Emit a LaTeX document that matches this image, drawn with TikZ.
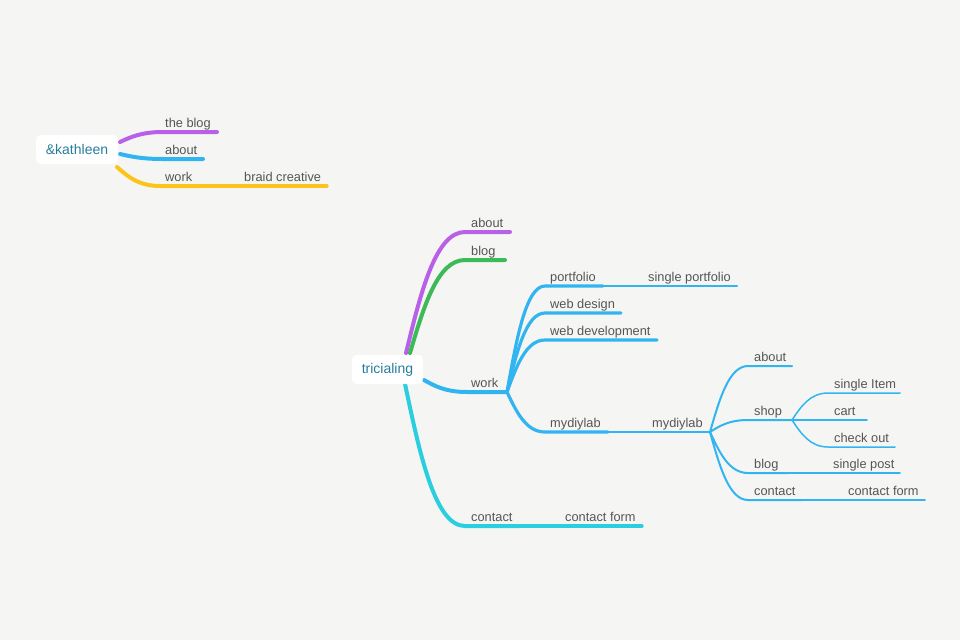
\documentclass[tikz,border=0pt]{standalone}
\usepackage{fontspec}
\setmainfont{Liberation Sans}
\usetikzlibrary{calc}
\definecolor{bg}{RGB}{245,246,244}
\definecolor{txt}{RGB}{85,85,85}
\definecolor{roottxt}{RGB}{40,126,154}
\definecolor{mmpurple}{RGB}{184,96,232}
\definecolor{mmgreen}{RGB}{60,186,88}
\definecolor{mmblue}{RGB}{50,180,240}
\definecolor{mmcyan}{RGB}{42,206,222}
\definecolor{mmyellow}{RGB}{252,196,26}
% S-shaped branch from a parent point to a child corner, then along the underline
\newcommand\mmlink[4]{\draw[#1] let \p1=(#2), \p2=(#3) in (\p1) .. controls ({0.75*\x1+0.25*\x2},{0.5*\y1+0.5*\y2}) and ({0.5*\x1+0.5*\x2},\y2) .. (\p2) -- (#4);}
\begin{document}
\begin{tikzpicture}[x=1pt,y=-1pt,
  line cap=round,
  lbl/.style={anchor=base west,inner sep=0pt,text=txt,font=\fontsize{12.8}{15}\selectfont},
  rootbox/.style={fill=white,rounded corners=5pt,text=roottxt,font=\fontsize{14}{16}\selectfont,inner sep=0pt},
  w1/.style={line width=4pt},
  w2/.style={line width=3.2pt},
  w3/.style={line width=2.6pt},
  w4/.style={line width=2pt},
  w5/.style={line width=1.5pt}]
\fill[bg] (0,0) rectangle (960,640);
\useasboundingbox (0,0) rectangle (960,640);

% ---------- &kathleen ----------
\coordinate (k-s1) at (120,142);
\coordinate (k-s2) at (120,154);
\coordinate (k-s3) at (117,167);
\coordinate (k-c1) at (163,132); \coordinate (k-e1) at (217,132);
\coordinate (k-c2) at (163,159); \coordinate (k-e2) at (203,159);
\coordinate (k-c3) at (160,186); \coordinate (k-e3) at (200,186);
\coordinate (k-e4) at (327,186);
\mmlink{w1,mmpurple}{k-s1}{k-c1}{k-e1}
\mmlink{w1,mmblue}{k-s2}{k-c2}{k-e2}
\mmlink{w1,mmyellow}{k-s3}{k-c3}{k-e3}
\draw[w2,mmyellow] (k-e3) -- (k-e4);
\node[rootbox,minimum width=82pt,minimum height=29pt] (kathleen) at (77,149.5) {\&kathleen};
\node[lbl] (k-blog) at (165,127) {the blog};
\node[lbl] (k-about) at (165,154) {about};
\node[lbl] (k-work) at (165,181) {work};
\node[lbl] (k-braid) at (244,181) {braid creative};

% ---------- tricialing ----------
\coordinate (t-s1) at (406,353);
\coordinate (t-s2) at (410,353);
\coordinate (t-s3) at (424,380);
\coordinate (t-s4) at (405,384);
\coordinate (t-c1) at (465,232); \coordinate (t-e1) at (510,232);
\coordinate (t-c2) at (465,260); \coordinate (t-e2) at (505,260);
\coordinate (t-c3) at (467,392); \coordinate (t-e3) at (507,392);
\coordinate (t-c4) at (465,526); \coordinate (t-e4) at (520,526);
\coordinate (t-e5) at (642,526);
\mmlink{w1,mmpurple}{t-s1}{t-c1}{t-e1}
\mmlink{w1,mmgreen}{t-s2}{t-c2}{t-e2}
\mmlink{w1,mmcyan}{t-s4}{t-c4}{t-e4}
\draw[w2,mmcyan] (t-e4) -- (t-e5);
% work and its children
\coordinate (w-c1) at (545,286); \coordinate (w-e1) at (603,286); \coordinate (w-e1b) at (737,286);
\coordinate (w-c2) at (545,313); \coordinate (w-e2) at (621,313);
\coordinate (w-c3) at (545,340); \coordinate (w-e3) at (657,340);
\coordinate (w-c4) at (545,432); \coordinate (w-e4) at (608,432); \coordinate (w-e4b) at (710,432);
\mmlink{w2,mmblue}{t-e3}{w-c1}{w-e1}
\mmlink{w2,mmblue}{t-e3}{w-c2}{w-e2}
\mmlink{w2,mmblue}{t-e3}{w-c3}{w-e3}
\mmlink{w2,mmblue}{t-e3}{w-c4}{w-e4}
\mmlink{w1,mmblue}{t-s3}{t-c3}{t-e3}
\draw[w3,mmblue] (w-e1) -- (w-e1b);
\draw[w3,mmblue] (w-e4) -- (w-e4b);
% mydiylab subtree
\coordinate (m-c1) at (748,366); \coordinate (m-e1) at (792,366);
\coordinate (m-c2) at (748,420); \coordinate (m-e2) at (792,420);
\coordinate (m-c3) at (748,473); \coordinate (m-e3) at (787,473); \coordinate (m-e3b) at (900,473);
\coordinate (m-c4) at (748,500); \coordinate (m-e4) at (802,500); \coordinate (m-e4b) at (925,500);
\mmlink{w4,mmblue}{w-e4b}{m-c1}{m-e1}
\mmlink{w4,mmblue}{w-e4b}{m-c2}{m-e2}
\mmlink{w4,mmblue}{w-e4b}{m-c3}{m-e3}
\mmlink{w4,mmblue}{w-e4b}{m-c4}{m-e4}
\draw[w5,mmblue] (m-e3) -- (m-e3b);
\draw[w5,mmblue] (m-e4) -- (m-e4b);
% shop children
\coordinate (s-c1) at (828,393); \coordinate (s-e1) at (900,393);
\coordinate (s-c2) at (828,420); \coordinate (s-e2) at (867,420);
\coordinate (s-c3) at (828,447); \coordinate (s-e3) at (895,447);
\mmlink{w5,mmblue}{m-e2}{s-c1}{s-e1}
\mmlink{w5,mmblue}{m-e2}{s-c2}{s-e2}
\mmlink{w5,mmblue}{m-e2}{s-c3}{s-e3}

\node[rootbox,minimum width=71pt,minimum height=29pt] (tricialing) at (387.5,369.5) {tricialing};
\node[lbl] (t-about) at (471,227) {about};
\node[lbl] (t-blog) at (471,255) {blog};
\node[lbl] (t-work) at (471,387) {work};
\node[lbl] (t-contact) at (471,521) {contact};
\node[lbl] (t-cform) at (565,521) {contact form};
\node[lbl] (w-portfolio) at (550,281) {portfolio};
\node[lbl] (w-single) at (648,281) {single portfolio};
\node[lbl] (w-design) at (550,308) {web design};
\node[lbl] (w-dev) at (550,335) {web development};
\node[lbl] (w-diy) at (550,427) {mydiylab};
\node[lbl] (m-diy) at (652,427) {mydiylab};
\node[lbl] (m-about) at (754,361) {about};
\node[lbl] (m-shop) at (754,415) {shop};
\node[lbl] (m-blog) at (754,468) {blog};
\node[lbl] (m-post) at (833,468) {single post};
\node[lbl] (m-contact) at (754,495) {contact};
\node[lbl] (m-cform) at (848,495) {contact form};
\node[lbl] (s-item) at (834,388) {single Item};
\node[lbl] (s-cart) at (834,415) {cart};
\node[lbl] (s-check) at (834,442) {check out};
\end{tikzpicture}
\end{document}
